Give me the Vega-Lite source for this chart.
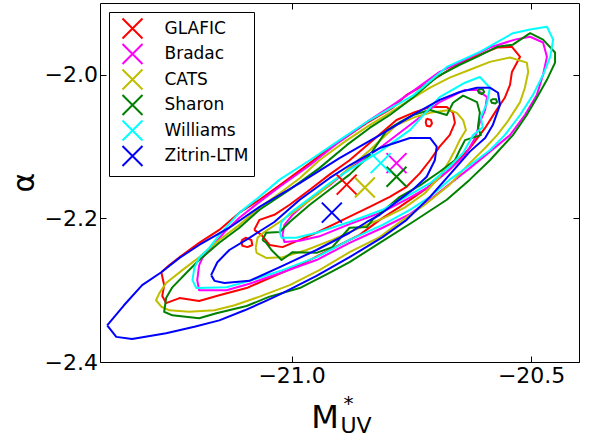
{
"$schema": "https://vega.github.io/schema/vega-lite/v6.json",
"width": 479, "height": 359,
"autosize": {"type": "none"},
"padding": {"left": 100, "top": 3, "right": 11, "bottom": 78},
"background": "white",
"config": {
  "view": {"stroke": "black", "strokeWidth": 1},
  "font": "DejaVu Sans",
  "axis": {"grid": false, "domain": false, "tickColor": "black", "tickSize": -6, "tickWidth": 1, "labelColor": "black", "labelFont": "DejaVu Sans", "labelFontSize": 22, "titleFont": "DejaVu Sans", "titleFontWeight": "normal", "titleColor": "black"},
  "legend": {"strokeColor": "black", "fillColor": "white", "padding": 5.5, "cornerRadius": 0, "symbolType": "M-1,-1L1,1M1,-1L-1,1", "symbolSize": 400, "symbolStrokeWidth": 2, "symbolOpacity": 1, "symbolFillColor": "transparent", "symbolOffset": 7, "labelOffset": 21, "labelFontSize": 17, "labelFont": "DejaVu Sans", "labelColor": "black", "rowPadding": -2.5, "labelLimit": 0}
},
"layer": [
{
  "data": {"values": [
{"m":"GLAFIC","c":"G95","x":-21.272,"y":-2.275},{"m":"GLAFIC","c":"G95","x":-21.266,"y":-2.293},{"m":"GLAFIC","c":"G95","x":-21.270,"y":-2.308},{"m":"GLAFIC","c":"G95","x":-21.262,"y":-2.318},{"m":"GLAFIC","c":"G95","x":-21.234,"y":-2.311},{"m":"GLAFIC","c":"G95","x":-21.193,"y":-2.315},{"m":"GLAFIC","c":"G95","x":-21.151,"y":-2.307},{"m":"GLAFIC","c":"G95","x":-21.094,"y":-2.297},{"m":"GLAFIC","c":"G95","x":-21.046,"y":-2.283},{"m":"GLAFIC","c":"G95","x":-20.983,"y":-2.265},{"m":"GLAFIC","c":"G95","x":-20.921,"y":-2.244},{"m":"GLAFIC","c":"G95","x":-20.858,"y":-2.223},{"m":"GLAFIC","c":"G95","x":-20.816,"y":-2.202},{"m":"GLAFIC","c":"G95","x":-20.774,"y":-2.184},{"m":"GLAFIC","c":"G95","x":-20.722,"y":-2.160},{"m":"GLAFIC","c":"G95","x":-20.670,"y":-2.132},{"m":"GLAFIC","c":"G95","x":-20.628,"y":-2.102},{"m":"GLAFIC","c":"G95","x":-20.596,"y":-2.074},{"m":"GLAFIC","c":"G95","x":-20.575,"y":-2.052},{"m":"GLAFIC","c":"G95","x":-20.555,"y":-2.032},{"m":"GLAFIC","c":"G95","x":-20.544,"y":-2.014},{"m":"GLAFIC","c":"G95","x":-20.540,"y":-1.996},{"m":"GLAFIC","c":"G95","x":-20.523,"y":-1.975},{"m":"GLAFIC","c":"G95","x":-20.540,"y":-1.961},{"m":"GLAFIC","c":"G95","x":-20.571,"y":-1.962},{"m":"GLAFIC","c":"G95","x":-20.607,"y":-1.972},{"m":"GLAFIC","c":"G95","x":-20.655,"y":-1.986},{"m":"GLAFIC","c":"G95","x":-20.711,"y":-2.010},{"m":"GLAFIC","c":"G95","x":-20.760,"y":-2.028},{"m":"GLAFIC","c":"G95","x":-20.789,"y":-2.046},{"m":"GLAFIC","c":"G95","x":-20.843,"y":-2.067},{"m":"GLAFIC","c":"G95","x":-20.885,"y":-2.086},{"m":"GLAFIC","c":"G95","x":-20.927,"y":-2.105},{"m":"GLAFIC","c":"G95","x":-20.962,"y":-2.123},{"m":"GLAFIC","c":"G95","x":-21.025,"y":-2.154},{"m":"GLAFIC","c":"G95","x":-21.067,"y":-2.174},{"m":"GLAFIC","c":"G95","x":-21.109,"y":-2.192},{"m":"GLAFIC","c":"G95","x":-21.151,"y":-2.216},{"m":"GLAFIC","c":"G95","x":-21.193,"y":-2.234},{"m":"GLAFIC","c":"G95","x":-21.234,"y":-2.254},{"m":"GLAFIC","c":"G95","x":-21.255,"y":-2.265},{"m":"GLAFIC","c":"G95","x":-21.272,"y":-2.275},
{"m":"GLAFIC","c":"G68","x":-21.078,"y":-2.216},{"m":"GLAFIC","c":"G68","x":-21.067,"y":-2.202},{"m":"GLAFIC","c":"G68","x":-21.036,"y":-2.195},{"m":"GLAFIC","c":"G68","x":-21.004,"y":-2.181},{"m":"GLAFIC","c":"G68","x":-20.962,"y":-2.160},{"m":"GLAFIC","c":"G68","x":-20.921,"y":-2.139},{"m":"GLAFIC","c":"G68","x":-20.879,"y":-2.119},{"m":"GLAFIC","c":"G68","x":-20.837,"y":-2.095},{"m":"GLAFIC","c":"G68","x":-20.781,"y":-2.063},{"m":"GLAFIC","c":"G68","x":-20.743,"y":-2.052},{"m":"GLAFIC","c":"G68","x":-20.711,"y":-2.045},{"m":"GLAFIC","c":"G68","x":-20.676,"y":-2.045},{"m":"GLAFIC","c":"G68","x":-20.663,"y":-2.053},{"m":"GLAFIC","c":"G68","x":-20.659,"y":-2.067},{"m":"GLAFIC","c":"G68","x":-20.670,"y":-2.084},{"m":"GLAFIC","c":"G68","x":-20.691,"y":-2.100},{"m":"GLAFIC","c":"G68","x":-20.711,"y":-2.119},{"m":"GLAFIC","c":"G68","x":-20.732,"y":-2.137},{"m":"GLAFIC","c":"G68","x":-20.760,"y":-2.156},{"m":"GLAFIC","c":"G68","x":-20.795,"y":-2.170},{"m":"GLAFIC","c":"G68","x":-20.837,"y":-2.184},{"m":"GLAFIC","c":"G68","x":-20.893,"y":-2.202},{"m":"GLAFIC","c":"G68","x":-20.948,"y":-2.220},{"m":"GLAFIC","c":"G68","x":-20.983,"y":-2.230},{"m":"GLAFIC","c":"G68","x":-21.019,"y":-2.240},{"m":"GLAFIC","c":"G68","x":-21.046,"y":-2.237},{"m":"GLAFIC","c":"G68","x":-21.063,"y":-2.223},{"m":"GLAFIC","c":"G68","x":-21.078,"y":-2.216},
{"m":"GLAFIC","c":"Gs1","x":-21.105,"y":-2.231},{"m":"GLAFIC","c":"Gs1","x":-21.096,"y":-2.227},{"m":"GLAFIC","c":"Gs1","x":-21.084,"y":-2.230},{"m":"GLAFIC","c":"Gs1","x":-21.082,"y":-2.237},{"m":"GLAFIC","c":"Gs1","x":-21.092,"y":-2.240},{"m":"GLAFIC","c":"Gs1","x":-21.103,"y":-2.238},{"m":"GLAFIC","c":"Gs1","x":-21.105,"y":-2.231},
{"m":"GLAFIC","c":"Gs2","x":-20.718,"y":-2.061},{"m":"GLAFIC","c":"Gs2","x":-20.709,"y":-2.063},{"m":"GLAFIC","c":"Gs2","x":-20.707,"y":-2.068},{"m":"GLAFIC","c":"Gs2","x":-20.711,"y":-2.072},{"m":"GLAFIC","c":"Gs2","x":-20.718,"y":-2.071},{"m":"GLAFIC","c":"Gs2","x":-20.720,"y":-2.066},{"m":"GLAFIC","c":"Gs2","x":-20.718,"y":-2.061},
{"m":"Bradac","c":"B95","x":-21.193,"y":-2.265},{"m":"Bradac","c":"B95","x":-21.197,"y":-2.286},{"m":"Bradac","c":"B95","x":-21.193,"y":-2.300},{"m":"Bradac","c":"B95","x":-21.136,"y":-2.300},{"m":"Bradac","c":"B95","x":-21.088,"y":-2.291},{"m":"Bradac","c":"B95","x":-21.019,"y":-2.275},{"m":"Bradac","c":"B95","x":-20.948,"y":-2.258},{"m":"Bradac","c":"B95","x":-20.879,"y":-2.234},{"m":"Bradac","c":"B95","x":-20.810,"y":-2.213},{"m":"Bradac","c":"B95","x":-20.753,"y":-2.194},{"m":"Bradac","c":"B95","x":-20.711,"y":-2.174},{"m":"Bradac","c":"B95","x":-20.670,"y":-2.152},{"m":"Bradac","c":"B95","x":-20.628,"y":-2.130},{"m":"Bradac","c":"B95","x":-20.586,"y":-2.107},{"m":"Bradac","c":"B95","x":-20.544,"y":-2.084},{"m":"Bradac","c":"B95","x":-20.513,"y":-2.056},{"m":"Bradac","c":"B95","x":-20.488,"y":-2.028},{"m":"Bradac","c":"B95","x":-20.475,"y":-2.000},{"m":"Bradac","c":"B95","x":-20.467,"y":-1.975},{"m":"Bradac","c":"B95","x":-20.475,"y":-1.955},{"m":"Bradac","c":"B95","x":-20.502,"y":-1.947},{"m":"Bradac","c":"B95","x":-20.534,"y":-1.951},{"m":"Bradac","c":"B95","x":-20.586,"y":-1.962},{"m":"Bradac","c":"B95","x":-20.638,"y":-1.979},{"m":"Bradac","c":"B95","x":-20.691,"y":-1.996},{"m":"Bradac","c":"B95","x":-20.743,"y":-2.021},{"m":"Bradac","c":"B95","x":-20.789,"y":-2.042},{"m":"Bradac","c":"B95","x":-20.837,"y":-2.063},{"m":"Bradac","c":"B95","x":-20.900,"y":-2.093},{"m":"Bradac","c":"B95","x":-20.962,"y":-2.126},{"m":"Bradac","c":"B95","x":-21.025,"y":-2.156},{"m":"Bradac","c":"B95","x":-21.067,"y":-2.177},{"m":"Bradac","c":"B95","x":-21.109,"y":-2.199},{"m":"Bradac","c":"B95","x":-21.140,"y":-2.219},{"m":"Bradac","c":"B95","x":-21.168,"y":-2.241},{"m":"Bradac","c":"B95","x":-21.186,"y":-2.255},{"m":"Bradac","c":"B95","x":-21.193,"y":-2.265},
{"m":"Bradac","c":"B68","x":-21.019,"y":-2.223},{"m":"Bradac","c":"B68","x":-21.015,"y":-2.233},{"m":"Bradac","c":"B68","x":-20.983,"y":-2.231},{"m":"Bradac","c":"B68","x":-20.942,"y":-2.225},{"m":"Bradac","c":"B68","x":-20.879,"y":-2.208},{"m":"Bradac","c":"B68","x":-20.810,"y":-2.191},{"m":"Bradac","c":"B68","x":-20.753,"y":-2.171},{"m":"Bradac","c":"B68","x":-20.711,"y":-2.155},{"m":"Bradac","c":"B68","x":-20.670,"y":-2.132},{"m":"Bradac","c":"B68","x":-20.638,"y":-2.112},{"m":"Bradac","c":"B68","x":-20.617,"y":-2.088},{"m":"Bradac","c":"B68","x":-20.607,"y":-2.066},{"m":"Bradac","c":"B68","x":-20.596,"y":-2.049},{"m":"Bradac","c":"B68","x":-20.592,"y":-2.031},{"m":"Bradac","c":"B68","x":-20.613,"y":-2.021},{"m":"Bradac","c":"B68","x":-20.638,"y":-2.021},{"m":"Bradac","c":"B68","x":-20.691,"y":-2.038},{"m":"Bradac","c":"B68","x":-20.753,"y":-2.070},{"m":"Bradac","c":"B68","x":-20.816,"y":-2.102},{"m":"Bradac","c":"B68","x":-20.879,"y":-2.130},{"m":"Bradac","c":"B68","x":-20.921,"y":-2.154},{"m":"Bradac","c":"B68","x":-20.962,"y":-2.174},{"m":"Bradac","c":"B68","x":-20.998,"y":-2.195},{"m":"Bradac","c":"B68","x":-21.015,"y":-2.209},{"m":"Bradac","c":"B68","x":-21.019,"y":-2.223},
{"m":"CATS","c":"C95","x":-21.262,"y":-2.290},{"m":"CATS","c":"C95","x":-21.276,"y":-2.304},{"m":"CATS","c":"C95","x":-21.283,"y":-2.314},{"m":"CATS","c":"C95","x":-21.272,"y":-2.323},{"m":"CATS","c":"C95","x":-21.255,"y":-2.328},{"m":"CATS","c":"C95","x":-21.214,"y":-2.330},{"m":"CATS","c":"C95","x":-21.161,"y":-2.328},{"m":"CATS","c":"C95","x":-21.119,"y":-2.321},{"m":"CATS","c":"C95","x":-21.067,"y":-2.309},{"m":"CATS","c":"C95","x":-21.004,"y":-2.293},{"m":"CATS","c":"C95","x":-20.942,"y":-2.272},{"m":"CATS","c":"C95","x":-20.879,"y":-2.247},{"m":"CATS","c":"C95","x":-20.816,"y":-2.226},{"m":"CATS","c":"C95","x":-20.774,"y":-2.205},{"m":"CATS","c":"C95","x":-20.722,"y":-2.181},{"m":"CATS","c":"C95","x":-20.670,"y":-2.153},{"m":"CATS","c":"C95","x":-20.628,"y":-2.123},{"m":"CATS","c":"C95","x":-20.596,"y":-2.102},{"m":"CATS","c":"C95","x":-20.571,"y":-2.084},{"m":"CATS","c":"C95","x":-20.550,"y":-2.066},{"m":"CATS","c":"C95","x":-20.523,"y":-2.038},{"m":"CATS","c":"C95","x":-20.513,"y":-2.018},{"m":"CATS","c":"C95","x":-20.506,"y":-1.996},{"m":"CATS","c":"C95","x":-20.509,"y":-1.983},{"m":"CATS","c":"C95","x":-20.544,"y":-1.976},{"m":"CATS","c":"C95","x":-20.586,"y":-1.982},{"m":"CATS","c":"C95","x":-20.628,"y":-1.993},{"m":"CATS","c":"C95","x":-20.670,"y":-2.004},{"m":"CATS","c":"C95","x":-20.711,"y":-2.018},{"m":"CATS","c":"C95","x":-20.753,"y":-2.035},{"m":"CATS","c":"C95","x":-20.795,"y":-2.053},{"m":"CATS","c":"C95","x":-20.837,"y":-2.070},{"m":"CATS","c":"C95","x":-20.889,"y":-2.093},{"m":"CATS","c":"C95","x":-20.942,"y":-2.119},{"m":"CATS","c":"C95","x":-20.983,"y":-2.144},{"m":"CATS","c":"C95","x":-21.025,"y":-2.165},{"m":"CATS","c":"C95","x":-21.067,"y":-2.185},{"m":"CATS","c":"C95","x":-21.109,"y":-2.209},{"m":"CATS","c":"C95","x":-21.151,"y":-2.230},{"m":"CATS","c":"C95","x":-21.193,"y":-2.254},{"m":"CATS","c":"C95","x":-21.228,"y":-2.272},{"m":"CATS","c":"C95","x":-21.262,"y":-2.290},
{"m":"CATS","c":"C68","x":-21.075,"y":-2.241},{"m":"CATS","c":"C68","x":-21.071,"y":-2.227},{"m":"CATS","c":"C68","x":-21.057,"y":-2.219},{"m":"CATS","c":"C68","x":-21.025,"y":-2.205},{"m":"CATS","c":"C68","x":-20.983,"y":-2.185},{"m":"CATS","c":"C68","x":-20.942,"y":-2.165},{"m":"CATS","c":"C68","x":-20.889,"y":-2.135},{"m":"CATS","c":"C68","x":-20.837,"y":-2.105},{"m":"CATS","c":"C68","x":-20.781,"y":-2.070},{"m":"CATS","c":"C68","x":-20.743,"y":-2.059},{"m":"CATS","c":"C68","x":-20.711,"y":-2.053},{"m":"CATS","c":"C68","x":-20.670,"y":-2.049},{"m":"CATS","c":"C68","x":-20.655,"y":-2.053},{"m":"CATS","c":"C68","x":-20.642,"y":-2.063},{"m":"CATS","c":"C68","x":-20.636,"y":-2.077},{"m":"CATS","c":"C68","x":-20.649,"y":-2.091},{"m":"CATS","c":"C68","x":-20.659,"y":-2.105},{"m":"CATS","c":"C68","x":-20.670,"y":-2.119},{"m":"CATS","c":"C68","x":-20.691,"y":-2.142},{"m":"CATS","c":"C68","x":-20.722,"y":-2.165},{"m":"CATS","c":"C68","x":-20.764,"y":-2.185},{"m":"CATS","c":"C68","x":-20.806,"y":-2.199},{"m":"CATS","c":"C68","x":-20.858,"y":-2.213},{"m":"CATS","c":"C68","x":-20.915,"y":-2.230},{"m":"CATS","c":"C68","x":-20.969,"y":-2.244},{"m":"CATS","c":"C68","x":-21.019,"y":-2.254},{"m":"CATS","c":"C68","x":-21.053,"y":-2.255},{"m":"CATS","c":"C68","x":-21.073,"y":-2.248},{"m":"CATS","c":"C68","x":-21.075,"y":-2.241},
{"m":"Sharon","c":"S95","x":-21.249,"y":-2.296},{"m":"Sharon","c":"S95","x":-21.262,"y":-2.311},{"m":"Sharon","c":"S95","x":-21.266,"y":-2.330},{"m":"Sharon","c":"S95","x":-21.249,"y":-2.335},{"m":"Sharon","c":"S95","x":-21.193,"y":-2.339},{"m":"Sharon","c":"S95","x":-21.157,"y":-2.332},{"m":"Sharon","c":"S95","x":-21.094,"y":-2.322},{"m":"Sharon","c":"S95","x":-21.046,"y":-2.309},{"m":"Sharon","c":"S95","x":-20.983,"y":-2.297},{"m":"Sharon","c":"S95","x":-20.921,"y":-2.276},{"m":"Sharon","c":"S95","x":-20.879,"y":-2.261},{"m":"Sharon","c":"S95","x":-20.816,"y":-2.234},{"m":"Sharon","c":"S95","x":-20.747,"y":-2.205},{"m":"Sharon","c":"S95","x":-20.676,"y":-2.174},{"m":"Sharon","c":"S95","x":-20.628,"y":-2.146},{"m":"Sharon","c":"S95","x":-20.586,"y":-2.119},{"m":"Sharon","c":"S95","x":-20.538,"y":-2.084},{"m":"Sharon","c":"S95","x":-20.509,"y":-2.056},{"m":"Sharon","c":"S95","x":-20.488,"y":-2.032},{"m":"Sharon","c":"S95","x":-20.467,"y":-2.007},{"m":"Sharon","c":"S95","x":-20.450,"y":-1.983},{"m":"Sharon","c":"S95","x":-20.450,"y":-1.969},{"m":"Sharon","c":"S95","x":-20.475,"y":-1.951},{"m":"Sharon","c":"S95","x":-20.502,"y":-1.942},{"m":"Sharon","c":"S95","x":-20.538,"y":-1.958},{"m":"Sharon","c":"S95","x":-20.571,"y":-1.961},{"m":"Sharon","c":"S95","x":-20.613,"y":-1.975},{"m":"Sharon","c":"S95","x":-20.649,"y":-1.986},{"m":"Sharon","c":"S95","x":-20.697,"y":-2.003},{"m":"Sharon","c":"S95","x":-20.747,"y":-2.032},{"m":"Sharon","c":"S95","x":-20.795,"y":-2.056},{"m":"Sharon","c":"S95","x":-20.837,"y":-2.074},{"m":"Sharon","c":"S95","x":-20.885,"y":-2.098},{"m":"Sharon","c":"S95","x":-20.942,"y":-2.130},{"m":"Sharon","c":"S95","x":-21.004,"y":-2.160},{"m":"Sharon","c":"S95","x":-21.067,"y":-2.188},{"m":"Sharon","c":"S95","x":-21.109,"y":-2.213},{"m":"Sharon","c":"S95","x":-21.151,"y":-2.234},{"m":"Sharon","c":"S95","x":-21.193,"y":-2.258},{"m":"Sharon","c":"S95","x":-21.220,"y":-2.276},{"m":"Sharon","c":"S95","x":-21.249,"y":-2.296},
{"m":"Sharon","c":"S68","x":-21.061,"y":-2.230},{"m":"Sharon","c":"S68","x":-21.053,"y":-2.220},{"m":"Sharon","c":"S68","x":-21.025,"y":-2.219},{"m":"Sharon","c":"S68","x":-21.004,"y":-2.205},{"m":"Sharon","c":"S68","x":-20.962,"y":-2.181},{"m":"Sharon","c":"S68","x":-20.921,"y":-2.160},{"m":"Sharon","c":"S68","x":-20.879,"y":-2.139},{"m":"Sharon","c":"S68","x":-20.837,"y":-2.112},{"m":"Sharon","c":"S68","x":-20.801,"y":-2.077},{"m":"Sharon","c":"S68","x":-20.774,"y":-2.066},{"m":"Sharon","c":"S68","x":-20.747,"y":-2.056},{"m":"Sharon","c":"S68","x":-20.711,"y":-2.049},{"m":"Sharon","c":"S68","x":-20.676,"y":-2.056},{"m":"Sharon","c":"S68","x":-20.663,"y":-2.039},{"m":"Sharon","c":"S68","x":-20.642,"y":-2.029},{"m":"Sharon","c":"S68","x":-20.613,"y":-2.038},{"m":"Sharon","c":"S68","x":-20.607,"y":-2.053},{"m":"Sharon","c":"S68","x":-20.611,"y":-2.073},{"m":"Sharon","c":"S68","x":-20.605,"y":-2.084},{"m":"Sharon","c":"S68","x":-20.638,"y":-2.091},{"m":"Sharon","c":"S68","x":-20.649,"y":-2.105},{"m":"Sharon","c":"S68","x":-20.659,"y":-2.119},{"m":"Sharon","c":"S68","x":-20.691,"y":-2.135},{"m":"Sharon","c":"S68","x":-20.732,"y":-2.154},{"m":"Sharon","c":"S68","x":-20.774,"y":-2.170},{"m":"Sharon","c":"S68","x":-20.806,"y":-2.188},{"m":"Sharon","c":"S68","x":-20.831,"y":-2.202},{"m":"Sharon","c":"S68","x":-20.843,"y":-2.212},{"m":"Sharon","c":"S68","x":-20.879,"y":-2.213},{"m":"Sharon","c":"S68","x":-20.915,"y":-2.240},{"m":"Sharon","c":"S68","x":-20.948,"y":-2.248},{"m":"Sharon","c":"S68","x":-20.998,"y":-2.247},{"m":"Sharon","c":"S68","x":-21.021,"y":-2.258},{"m":"Sharon","c":"S68","x":-21.042,"y":-2.244},{"m":"Sharon","c":"S68","x":-21.053,"y":-2.234},{"m":"Sharon","c":"S68","x":-21.061,"y":-2.230},
{"m":"Sharon","c":"Ss1","x":-20.609,"y":-2.020},{"m":"Sharon","c":"Ss1","x":-20.601,"y":-2.020},{"m":"Sharon","c":"Ss1","x":-20.598,"y":-2.024},{"m":"Sharon","c":"Ss1","x":-20.603,"y":-2.027},{"m":"Sharon","c":"Ss1","x":-20.609,"y":-2.025},{"m":"Sharon","c":"Ss1","x":-20.611,"y":-2.022},{"m":"Sharon","c":"Ss1","x":-20.609,"y":-2.020},
{"m":"Sharon","c":"Ss2","x":-20.582,"y":-2.034},{"m":"Sharon","c":"Ss2","x":-20.573,"y":-2.034},{"m":"Sharon","c":"Ss2","x":-20.571,"y":-2.038},{"m":"Sharon","c":"Ss2","x":-20.575,"y":-2.040},{"m":"Sharon","c":"Ss2","x":-20.582,"y":-2.039},{"m":"Sharon","c":"Ss2","x":-20.584,"y":-2.036},{"m":"Sharon","c":"Ss2","x":-20.582,"y":-2.034},
{"m":"Williams","c":"W95","x":-21.203,"y":-2.269},{"m":"Williams","c":"W95","x":-21.207,"y":-2.286},{"m":"Williams","c":"W95","x":-21.199,"y":-2.297},{"m":"Williams","c":"W95","x":-21.136,"y":-2.296},{"m":"Williams","c":"W95","x":-21.088,"y":-2.287},{"m":"Williams","c":"W95","x":-21.019,"y":-2.272},{"m":"Williams","c":"W95","x":-20.948,"y":-2.254},{"m":"Williams","c":"W95","x":-20.879,"y":-2.230},{"m":"Williams","c":"W95","x":-20.810,"y":-2.209},{"m":"Williams","c":"W95","x":-20.753,"y":-2.188},{"m":"Williams","c":"W95","x":-20.711,"y":-2.170},{"m":"Williams","c":"W95","x":-20.670,"y":-2.146},{"m":"Williams","c":"W95","x":-20.628,"y":-2.126},{"m":"Williams","c":"W95","x":-20.586,"y":-2.105},{"m":"Williams","c":"W95","x":-20.555,"y":-2.084},{"m":"Williams","c":"W95","x":-20.523,"y":-2.056},{"m":"Williams","c":"W95","x":-20.496,"y":-2.028},{"m":"Williams","c":"W95","x":-20.475,"y":-2.000},{"m":"Williams","c":"W95","x":-20.460,"y":-1.975},{"m":"Williams","c":"W95","x":-20.454,"y":-1.951},{"m":"Williams","c":"W95","x":-20.467,"y":-1.933},{"m":"Williams","c":"W95","x":-20.502,"y":-1.937},{"m":"Williams","c":"W95","x":-20.538,"y":-1.942},{"m":"Williams","c":"W95","x":-20.607,"y":-1.968},{"m":"Williams","c":"W95","x":-20.676,"y":-1.989},{"m":"Williams","c":"W95","x":-20.747,"y":-2.029},{"m":"Williams","c":"W95","x":-20.789,"y":-2.045},{"m":"Williams","c":"W95","x":-20.837,"y":-2.063},{"m":"Williams","c":"W95","x":-20.900,"y":-2.091},{"m":"Williams","c":"W95","x":-20.962,"y":-2.119},{"m":"Williams","c":"W95","x":-21.025,"y":-2.146},{"m":"Williams","c":"W95","x":-21.067,"y":-2.170},{"m":"Williams","c":"W95","x":-21.109,"y":-2.192},{"m":"Williams","c":"W95","x":-21.151,"y":-2.223},{"m":"Williams","c":"W95","x":-21.172,"y":-2.241},{"m":"Williams","c":"W95","x":-21.193,"y":-2.255},{"m":"Williams","c":"W95","x":-21.203,"y":-2.269},
{"m":"Williams","c":"W68","x":-21.025,"y":-2.219},{"m":"Williams","c":"W68","x":-21.021,"y":-2.205},{"m":"Williams","c":"W68","x":-21.004,"y":-2.193},{"m":"Williams","c":"W68","x":-20.962,"y":-2.172},{"m":"Williams","c":"W68","x":-20.921,"y":-2.151},{"m":"Williams","c":"W68","x":-20.879,"y":-2.132},{"m":"Williams","c":"W68","x":-20.816,"y":-2.107},{"m":"Williams","c":"W68","x":-20.753,"y":-2.077},{"m":"Williams","c":"W68","x":-20.691,"y":-2.031},{"m":"Williams","c":"W68","x":-20.638,"y":-2.011},{"m":"Williams","c":"W68","x":-20.607,"y":-2.003},{"m":"Williams","c":"W68","x":-20.586,"y":-2.018},{"m":"Williams","c":"W68","x":-20.592,"y":-2.039},{"m":"Williams","c":"W68","x":-20.605,"y":-2.059},{"m":"Williams","c":"W68","x":-20.601,"y":-2.073},{"m":"Williams","c":"W68","x":-20.621,"y":-2.084},{"m":"Williams","c":"W68","x":-20.642,"y":-2.109},{"m":"Williams","c":"W68","x":-20.670,"y":-2.128},{"m":"Williams","c":"W68","x":-20.711,"y":-2.151},{"m":"Williams","c":"W68","x":-20.753,"y":-2.167},{"m":"Williams","c":"W68","x":-20.810,"y":-2.188},{"m":"Williams","c":"W68","x":-20.879,"y":-2.205},{"m":"Williams","c":"W68","x":-20.948,"y":-2.220},{"m":"Williams","c":"W68","x":-20.990,"y":-2.227},{"m":"Williams","c":"W68","x":-21.021,"y":-2.227},{"m":"Williams","c":"W68","x":-21.025,"y":-2.219},
{"m":"Zitrin-LTM","c":"Z95","x":-21.385,"y":-2.349},{"m":"Zitrin-LTM","c":"Z95","x":-21.366,"y":-2.365},{"m":"Zitrin-LTM","c":"Z95","x":-21.333,"y":-2.368},{"m":"Zitrin-LTM","c":"Z95","x":-21.262,"y":-2.360},{"m":"Zitrin-LTM","c":"Z95","x":-21.203,"y":-2.351},{"m":"Zitrin-LTM","c":"Z95","x":-21.151,"y":-2.342},{"m":"Zitrin-LTM","c":"Z95","x":-21.098,"y":-2.328},{"m":"Zitrin-LTM","c":"Z95","x":-21.057,"y":-2.316},{"m":"Zitrin-LTM","c":"Z95","x":-21.019,"y":-2.304},{"m":"Zitrin-LTM","c":"Z95","x":-20.948,"y":-2.280},{"m":"Zitrin-LTM","c":"Z95","x":-20.879,"y":-2.254},{"m":"Zitrin-LTM","c":"Z95","x":-20.810,"y":-2.226},{"m":"Zitrin-LTM","c":"Z95","x":-20.760,"y":-2.202},{"m":"Zitrin-LTM","c":"Z95","x":-20.711,"y":-2.170},{"m":"Zitrin-LTM","c":"Z95","x":-20.670,"y":-2.139},{"m":"Zitrin-LTM","c":"Z95","x":-20.628,"y":-2.107},{"m":"Zitrin-LTM","c":"Z95","x":-20.596,"y":-2.088},{"m":"Zitrin-LTM","c":"Z95","x":-20.580,"y":-2.070},{"m":"Zitrin-LTM","c":"Z95","x":-20.565,"y":-2.042},{"m":"Zitrin-LTM","c":"Z95","x":-20.569,"y":-2.025},{"m":"Zitrin-LTM","c":"Z95","x":-20.586,"y":-2.018},{"m":"Zitrin-LTM","c":"Z95","x":-20.613,"y":-2.018},{"m":"Zitrin-LTM","c":"Z95","x":-20.649,"y":-2.024},{"m":"Zitrin-LTM","c":"Z95","x":-20.691,"y":-2.035},{"m":"Zitrin-LTM","c":"Z95","x":-20.739,"y":-2.053},{"m":"Zitrin-LTM","c":"Z95","x":-20.816,"y":-2.084},{"m":"Zitrin-LTM","c":"Z95","x":-20.900,"y":-2.116},{"m":"Zitrin-LTM","c":"Z95","x":-20.983,"y":-2.151},{"m":"Zitrin-LTM","c":"Z95","x":-21.067,"y":-2.184},{"m":"Zitrin-LTM","c":"Z95","x":-21.130,"y":-2.213},{"m":"Zitrin-LTM","c":"Z95","x":-21.193,"y":-2.237},{"m":"Zitrin-LTM","c":"Z95","x":-21.234,"y":-2.255},{"m":"Zitrin-LTM","c":"Z95","x":-21.272,"y":-2.275},{"m":"Zitrin-LTM","c":"Z95","x":-21.312,"y":-2.293},{"m":"Zitrin-LTM","c":"Z95","x":-21.350,"y":-2.321},{"m":"Zitrin-LTM","c":"Z95","x":-21.385,"y":-2.349},
{"m":"Zitrin-LTM","c":"Z68","x":-21.168,"y":-2.279},{"m":"Zitrin-LTM","c":"Z68","x":-21.155,"y":-2.261},{"m":"Zitrin-LTM","c":"Z68","x":-21.130,"y":-2.244},{"m":"Zitrin-LTM","c":"Z68","x":-21.088,"y":-2.227},{"m":"Zitrin-LTM","c":"Z68","x":-21.036,"y":-2.205},{"m":"Zitrin-LTM","c":"Z68","x":-20.983,"y":-2.174},{"m":"Zitrin-LTM","c":"Z68","x":-20.921,"y":-2.144},{"m":"Zitrin-LTM","c":"Z68","x":-20.879,"y":-2.126},{"m":"Zitrin-LTM","c":"Z68","x":-20.816,"y":-2.102},{"m":"Zitrin-LTM","c":"Z68","x":-20.753,"y":-2.088},{"m":"Zitrin-LTM","c":"Z68","x":-20.711,"y":-2.088},{"m":"Zitrin-LTM","c":"Z68","x":-20.697,"y":-2.100},{"m":"Zitrin-LTM","c":"Z68","x":-20.701,"y":-2.119},{"m":"Zitrin-LTM","c":"Z68","x":-20.718,"y":-2.142},{"m":"Zitrin-LTM","c":"Z68","x":-20.747,"y":-2.160},{"m":"Zitrin-LTM","c":"Z68","x":-20.781,"y":-2.177},{"m":"Zitrin-LTM","c":"Z68","x":-20.816,"y":-2.195},{"m":"Zitrin-LTM","c":"Z68","x":-20.843,"y":-2.205},{"m":"Zitrin-LTM","c":"Z68","x":-20.879,"y":-2.220},{"m":"Zitrin-LTM","c":"Z68","x":-20.948,"y":-2.244},{"m":"Zitrin-LTM","c":"Z68","x":-21.019,"y":-2.266},{"m":"Zitrin-LTM","c":"Z68","x":-21.088,"y":-2.287},{"m":"Zitrin-LTM","c":"Z68","x":-21.140,"y":-2.290},{"m":"Zitrin-LTM","c":"Z68","x":-21.161,"y":-2.287},{"m":"Zitrin-LTM","c":"Z68","x":-21.168,"y":-2.279}
  ]},
  "mark": {"type": "line", "strokeWidth": 2, "strokeJoin": "round"},
  "encoding": {
    "x": {"field": "x", "type": "quantitative", "scale": {"domain": [-21.4, -20.4], "nice": false, "zero": false},
      "axis": {"orient": "bottom", "values": [-21.0, -20.5], "format": ".1f", "labelPadding": 9.6, "title": "M", "titleFontSize": 32, "titleX": 224.5, "titleY": 65, "titleAlign": "center", "titleBaseline": "alphabetic"}},
    "y": {"field": "y", "type": "quantitative", "scale": {"domain": [-2.4, -1.9], "nice": false, "zero": false},
      "axis": {"orient": "left", "values": [-2.4, -2.2, -2.0], "format": ".1f", "labelPadding": 8.5, "title": "α", "titleFontSize": 30, "titleX": -76, "titleY": 179, "titleAngle": -90, "titleAlign": "center", "titleBaseline": "middle"}},
    "color": {"field": "m", "type": "nominal", "scale": {"domain": ["GLAFIC", "Bradac", "CATS", "Sharon", "Williams", "Zitrin-LTM"], "range": ["#ff0000", "#ff00ff", "#bfbf00", "#008000", "#00ffff", "#0000ff"]},
      "legend": {"orient": "none", "legendX": 9, "legendY": 9, "title": null}},
    "detail": {"field": "c", "type": "nominal"},
    "order": {"value": null}
  }
},
{
  "data": {"values": [
    {"m": "GLAFIC", "x": -20.885, "y": -2.153},
    {"m": "Bradac", "x": -20.781, "y": -2.123},
    {"m": "CATS", "x": -20.847, "y": -2.157},
    {"m": "Sharon", "x": -20.781, "y": -2.142},
    {"m": "Williams", "x": -20.814, "y": -2.123},
    {"m": "Zitrin-LTM", "x": -20.916, "y": -2.192}
  ]},
  "mark": {"type": "point", "shape": "M-1,-1L1,1M1,-1L-1,1", "filled": false, "size": 400, "strokeWidth": 2, "opacity": 1},
  "encoding": {
    "x": {"field": "x", "type": "quantitative", "scale": {"domain": [-21.4, -20.4], "nice": false, "zero": false},
      "axis": {"orient": "top", "values": [-21.0, -20.5], "labels": false, "title": "UV", "titleFontSize": 22, "titleX": 255.5, "titleY": 429, "titleAlign": "center", "titleBaseline": "alphabetic"}},
    "y": {"field": "y", "type": "quantitative", "scale": {"domain": [-2.4, -1.9], "nice": false, "zero": false},
      "axis": {"orient": "right", "values": [-2.4, -2.2, -2.0], "labels": false, "title": "*", "titleFontSize": 20, "titleAngle": 0, "titleX": -231, "titleY": 406, "titleAlign": "center", "titleBaseline": "alphabetic"}},
    "color": {"field": "m", "type": "nominal", "scale": {"domain": ["GLAFIC", "Bradac", "CATS", "Sharon", "Williams", "Zitrin-LTM"], "range": ["#ff0000", "#ff00ff", "#bfbf00", "#008000", "#00ffff", "#0000ff"]},
      "legend": {"orient": "none", "legendX": 9, "legendY": 9, "title": null}}
  }
}
],
"resolve": {"axis": {"x": "independent", "y": "independent"}}
}
